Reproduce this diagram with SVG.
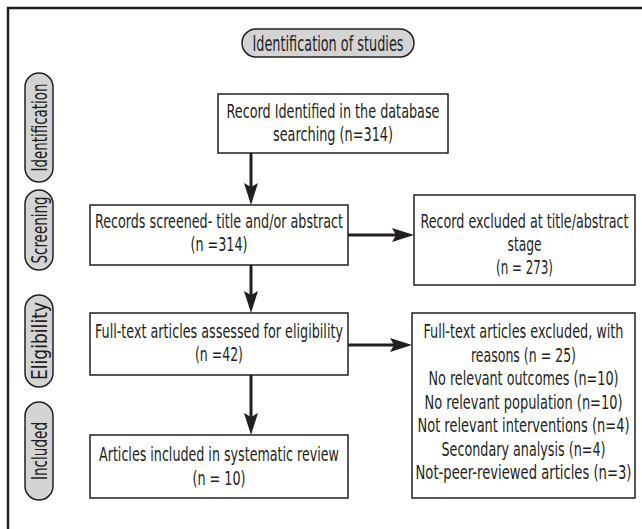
<svg xmlns="http://www.w3.org/2000/svg" width="642" height="529" viewBox="0 0 642 529">
<style>
text{font-family:"Liberation Sans Narrow","DejaVu Sans Condensed","Liberation Sans",sans-serif;font-stretch:condensed;font-size:20px;fill:#231f20;text-anchor:middle}
.lbl{font-size:21px}
.box{fill:#fff;stroke:#231f20;stroke-width:1.5}
.pill{fill:#d4d4d4;stroke:#231f20;stroke-width:1.5}
.conn{stroke:#231f20;stroke-width:3;fill:none}
</style>
<defs>
<marker id="ah" viewBox="0 0 22 14" refX="10" refY="7" markerWidth="22" markerHeight="14" orient="auto" markerUnits="userSpaceOnUse">
<path d="M0,0 L22,7 L0,14 L4,7 Z" fill="#231f20"/>
</marker>
</defs>
<rect width="642" height="529" fill="#fff"/>
<rect x="8" y="8" width="700" height="600" fill="none" stroke="#231f20" stroke-width="2.5"/>

<g id="title">
<rect class="pill" x="242" y="29" width="172" height="28" rx="14"/>
<text class="lbl" x="328" y="50.5" textLength="151" lengthAdjust="spacingAndGlyphs">Identification of studies</text>
</g>

<g id="stage-identification">
<rect class="pill" x="25" y="73" width="28" height="109" rx="14"/>
<text class="lbl" transform="translate(46.5,127.5) rotate(-90)" textLength="88" lengthAdjust="spacingAndGlyphs">Identification</text>
</g>
<g id="stage-screening">
<rect class="pill" x="25" y="190" width="28" height="80" rx="14"/>
<text class="lbl" transform="translate(46.5,230) rotate(-90)" textLength="67" lengthAdjust="spacingAndGlyphs">Screening</text>
</g>
<g id="stage-eligibility">
<rect class="pill" x="25" y="295" width="28" height="92" rx="14"/>
<text class="lbl" transform="translate(46.5,341) rotate(-90)" textLength="78" lengthAdjust="spacingAndGlyphs">Eligibility</text>
</g>
<g id="stage-included">
<rect class="pill" x="25" y="402" width="28" height="98" rx="14"/>
<text class="lbl" transform="translate(46.5,451) rotate(-90)" textLength="58" lengthAdjust="spacingAndGlyphs">Included</text>
</g>

<g id="identified">
<rect class="box" x="218" y="94" width="230" height="59"/>
<text x="333" y="118" textLength="213" lengthAdjust="spacingAndGlyphs">Record Identified in the database</text>
<text x="333" y="141" textLength="120" lengthAdjust="spacingAndGlyphs">searching (n=314)</text>
</g>

<g id="screened">
<rect class="box" x="90" y="205" width="258" height="60"/>
<text x="219" y="228" textLength="248" lengthAdjust="spacingAndGlyphs">Records screened- title and/or abstract</text>
<text x="219" y="251" textLength="57" lengthAdjust="spacingAndGlyphs">(n =314)</text>
</g>

<g id="excluded-title">
<rect class="box" x="414" y="195" width="221" height="90"/>
<text x="524.5" y="228" textLength="208" lengthAdjust="spacingAndGlyphs">Record excluded at title/abstract</text>
<text x="524.5" y="251" textLength="34" lengthAdjust="spacingAndGlyphs">stage</text>
<text x="524.5" y="274" textLength="57" lengthAdjust="spacingAndGlyphs">(n = 273)</text>
</g>

<g id="fulltext">
<rect class="box" x="90" y="313" width="258" height="62"/>
<text x="219" y="338" textLength="248" lengthAdjust="spacingAndGlyphs">Full-text articles assessed for eligibility</text>
<text x="219" y="361" textLength="48" lengthAdjust="spacingAndGlyphs">(n =42)</text>
</g>

<g id="excluded-fulltext">
<rect class="box" x="412" y="313" width="223" height="185"/>
<text x="523.5" y="338" textLength="200" lengthAdjust="spacingAndGlyphs">Full-text articles excluded, with</text>
<text x="523.5" y="361.5" textLength="105" lengthAdjust="spacingAndGlyphs">reasons (n = 25)</text>
<text x="523.5" y="385" textLength="190" lengthAdjust="spacingAndGlyphs">No relevant outcomes (n=10)</text>
<text x="523.5" y="408.5" textLength="198" lengthAdjust="spacingAndGlyphs">No relevant population (n=10)</text>
<text x="523.5" y="432" textLength="212" lengthAdjust="spacingAndGlyphs">Not relevant interventions (n=4)</text>
<text x="523.5" y="455.5" textLength="164" lengthAdjust="spacingAndGlyphs">Secondary analysis (n=4)</text>
<text x="523.5" y="479" textLength="216" lengthAdjust="spacingAndGlyphs">Not-peer-reviewed articles (n=3)</text>
</g>

<g id="included">
<rect class="box" x="90" y="435" width="258" height="63"/>
<text x="219" y="461" textLength="240" lengthAdjust="spacingAndGlyphs">Articles included in systematic review</text>
<text x="219" y="485" textLength="53" lengthAdjust="spacingAndGlyphs">(n = 10)</text>
</g>

<g id="connectors">
<line class="conn" x1="251" y1="153" x2="251" y2="193" marker-end="url(#ah)"/>
<line class="conn" x1="251" y1="265" x2="251" y2="301" marker-end="url(#ah)"/>
<line class="conn" x1="251" y1="375" x2="251" y2="423" marker-end="url(#ah)"/>
<line class="conn" x1="348" y1="235" x2="402" y2="235" marker-end="url(#ah)"/>
<line class="conn" x1="348" y1="345" x2="400" y2="345" marker-end="url(#ah)"/>
</g>
</svg>
